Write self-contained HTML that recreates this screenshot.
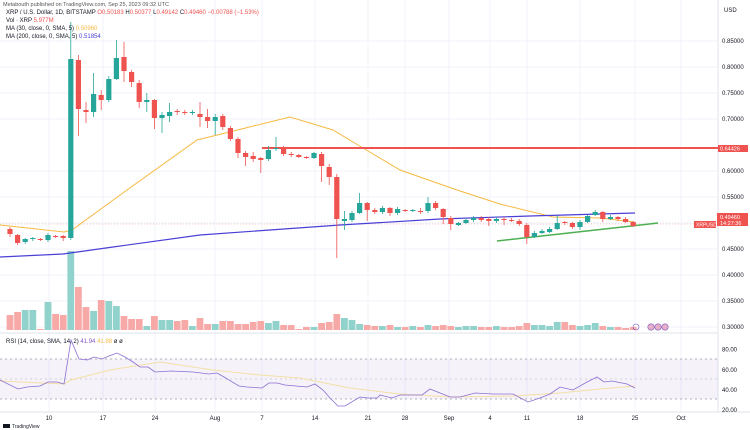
<!DOCTYPE html>
<html><head><meta charset="utf-8">
<style>
html,body{margin:0;padding:0;background:#fff;}
svg{display:block;font-family:"Liberation Sans",sans-serif;}
</style></head>
<body>
<svg id="c" width="750" height="430" viewBox="0 0 750 430" xmlns="http://www.w3.org/2000/svg">
<rect width="750" height="430" fill="#fff"/>
<g id="grid" stroke="#f0f3fa" stroke-width="1"></g>
<line x1="718" y1="0" x2="718" y2="412" stroke="#e0e3eb"/>
<line x1="0" y1="333" x2="718" y2="333" stroke="#e0e3eb"/>
<line x1="0" y1="412" x2="750" y2="412" stroke="#e0e3eb"/>
<rect x="0" y="359" width="718" height="40" fill="#7e57c2" fill-opacity="0.08"/>
<g stroke="#9598a1" stroke-dasharray="2,3" stroke-width="0.7">
<line x1="0" y1="359" x2="718" y2="359"/><line x1="0" y1="379" x2="718" y2="379" stroke-opacity="0.5"/><line x1="0" y1="399" x2="718" y2="399"/>
</g>
<g id="vol"></g>
<line x1="0" y1="224" x2="716" y2="224" stroke="#ef5350" stroke-opacity="0.35" stroke-dasharray="1,2"/>
<polyline fill="none" stroke="#f5b942" stroke-width="1" points="0,225 64,232 72,230 127,190 197,140 290,117 333,130 363,148 400,170 457,190 500,204 553,217 600,218 634,222"/>
<polyline fill="none" stroke="#4a3fd6" stroke-width="1.2" points="0,257 63,254 113,247 200,235 340,225 440,219 530,216 635,213"/>
<line x1="262" y1="148" x2="718" y2="148" stroke="#ef5350" stroke-width="2"/>
<line x1="497" y1="241" x2="658" y2="223" stroke="#4caf50" stroke-width="1.5"/>
<g id="cnd"></g>
<polyline fill="none" stroke="#f3e0a6" stroke-width="1" points="0,381 64,384 71,380 110,370 160,362 213,370 260,375 300,378 350,388 400,394 450,397 513,396 560,393 600,389 635,386"/>
<polyline fill="none" stroke="#8c6fd1" stroke-width="0.8" points="0,380 18,389 27,387 40,386 48,382 57,382 64,384 71,340 79,359 87,360 94,357 102,359 109,356 117,353 125,357 133,362 140,367 148,367 155,372 171,371 193,372 209,374 217,373 224,377 239,386 247,387 262,388 269,383 277,383 285,385 307,387 315,384 323,390 330,398 338,406 345,406 360,397 368,398 377,398 380,395 392,398 400,395 422,395 430,389 450,397 460,397 475,393 493,394 513,394 528,402 540,398 550,394 560,387 573,390 587,382 597,377 604,382 612,381 627,384 635,388"/>
<g font-size="6" fill="#131722">
<text x="3" y="6" fill="#555" font-size="5.5">Metabouth published on TradingView.com, Sep 25, 2023 09:32 UTC</text>
<text x="6" y="14">XRP / U.S. Dollar, 1D, BITSTAMP <tspan fill="#ef5350">O</tspan><tspan fill="#ef5350">0.50183</tspan> H<tspan fill="#ef5350">0.50377</tspan> L<tspan fill="#ef5350">0.49142</tspan> C<tspan fill="#ef5350">0.49460 −0.00788 (−1.53%)</tspan></text>
<text x="6" y="22">Vol · XRP <tspan fill="#ef5350">5.977M</tspan></text>
<text x="6" y="30">MA (30, close, 0, SMA, 5) <tspan fill="#f5b942">0.50960</tspan></text>
<text x="6" y="38">MA (200, close, 0, SMA, 5) <tspan fill="#4a3fd6">0.51854</tspan></text>
<text x="6" y="343">RSI (14, close, SMA, 14, 2) <tspan fill="#7e57c2">41.94</tspan> <tspan fill="#f5b942">41.98</tspan> ø ø</text>
</g>
<g id="ax" font-size="6" fill="#131722"></g>
<rect x="718" y="145" width="30" height="7" fill="#ef5350"/>
<text x="720" y="150.5" font-size="5.5" fill="#fff">0.64426</text>
<rect x="694" y="221" width="22" height="7" fill="#ef5350"/>
<text x="696" y="226.5" font-size="5" fill="#fff">XRPUSD</text>
<rect x="717" y="213" width="31" height="13" fill="#ef5350"/>
<text x="720" y="219" font-size="5.5" fill="#fff">0.49460</text>
<text x="720" y="225" font-size="5.5" fill="#fff">14:27:36</text>
<g fill="#f5a3a3" stroke="#7e57c2" stroke-width="0.6"><circle cx="636" cy="327" r="3" fill="none"/><circle cx="651" cy="327" r="3.2" fill="#e8b0c8"/><circle cx="658" cy="327" r="3.2" fill="#e8b0c8"/><circle cx="665" cy="327" r="3.2" fill="#e8b0c8"/></g>
<rect x="3" y="424" width="7" height="4" fill="#131722"/>
<text x="12" y="428" font-size="5" fill="#131722">TradingView</text>
</svg>
<script>
var NS="http://www.w3.org/2000/svg";
function el(p,t,a){var e=document.createElementNS(NS,t);for(var k in a)e.setAttribute(k,a[k]);p.appendChild(e);return e;}
var g=document.getElementById('grid');
[49,103,155,215,262,315,368,405,449,490,527,580,635,681].forEach(function(x){el(g,'line',{x1:x,y1:0,x2:x,y2:412});});
var ax=document.getElementById('ax');
var prices=["0.85000","0.80000","0.75000","0.70000","0.65000","0.60000","0.55000","0.50000","0.45000","0.40000","0.35000","0.30000"];
prices.forEach(function(p,i){var y=41+i*26;if(p!="0.65000"){el(g,'line',{x1:0,y1:y,x2:718,y2:y});var t=el(ax,'text',{x:722,y:y+2});t.textContent=p;}});
var u=el(ax,'text',{x:724,y:12});u.textContent="USD";
[["80.00",349.5],["60.00",370],["40.00",390],["20.00",410]].forEach(function(r){var t=el(ax,'text',{x:722,y:r[1]+2});t.textContent=r[0];});
[["10",49],["17",103],["24",155],["Aug",215],["7",262],["14",315],["21",368],["28",405],["Sep",449],["4",490],["11",527],["18",580],["25",635],["Oct",681]].forEach(function(d){var t=el(ax,'text',{x:d[1],y:420,'text-anchor':'middle'});t.textContent=d[0];});
var D=[[229,234,227,237],[235,243,234,245],[242,239,238,244],[239,238,237,241],[239,240,238,241],[240,235,233,242],[236,237,235,238],[236,238,235,241],[238,59,22,240],[60,109,55,136],[110,112,102,123],[112,94,73,117],[95,100,90,110],[100,79,76,102],[79,58,40,80],[57,71,42,82],[72,82,70,87],[83,102,80,108],[102,100,93,112],[100,118,99,129],[118,115,112,133],[116,112,103,122],[111,112,109,115],[112,113,110,115],[113,112,110,115],[114,117,102,127],[117,121,109,128],[121,117,114,135],[116,127,114,130],[128,139,126,141],[139,153,137,158],[153,157,151,166],[156,159,152,162],[158,160,157,173],[159,150,146,161],[149,148,137,151],[148,154,146,156],[154,155,152,157],[155,157,154,158],[157,158,156,159],[158,153,152,159],[154,166,152,182],[167,177,164,185],[177,219,174,258],[221,219,211,230],[220,213,211,222],[213,203,193,214],[203,210,202,221],[210,212,208,214],[212,208,206,214],[208,213,207,216],[213,209,207,215],[210,211,209,212],[211,210,209,212],[211,212,208,214],[211,203,197,213],[203,208,201,210],[209,217,208,224],[218,224,216,230],[225,223,222,226],[223,220,218,224],[220,218,216,222],[218,220,216,222],[219,221,217,226],[221,219,217,223],[219,220,217,225],[220,221,218,222],[221,224,219,226],[225,237,223,244],[237,233,231,238],[233,231,229,234],[232,229,227,233],[229,223,216,230],[222,223,221,225],[223,227,222,229],[227,222,220,230],[222,216,215,223],[215,212,210,216],[212,219,211,222],[219,217,215,220],[217,219,216,221],[219,222,217,223],[222,226,221,227]];
var V=[15,18,20,20,1,28,16,15,79,43,23,19,30,29,24,14,11,11,4,14,10,10,9,10,4,12,6,6,9,9,6,6,8,9,7,9,5,5,1,3,3,7,8,16,12,10,6,5,4,4,5,3,3,4,3,5,4,5,4,3,4,4,3,3,4,3,3,4,7,5,5,4,8,8,5,4,5,7,4,3,3,2,3];
var cg=document.getElementById('cnd'),vg=document.getElementById('vol');
D.forEach(function(d,i){var x=10+i*7.6;var red=d[1]>d[0];var col=red?"#ef5350":"#26a69a";
el(cg,'line',{x1:x,y1:d[2],x2:x,y2:d[3],stroke:col,'stroke-width':0.8});
var top=Math.min(d[0],d[1]),h=Math.max(Math.abs(d[1]-d[0]),1);
el(cg,'rect',{x:x-2.6,y:top,width:5.2,height:h,fill:col});
var v=V[i]||3;el(vg,'rect',{x:x-3.4,y:330-v,width:6.8,height:v,fill:red?"#f7a9a7":"#92d2cc"});});
</script>
</body></html>
